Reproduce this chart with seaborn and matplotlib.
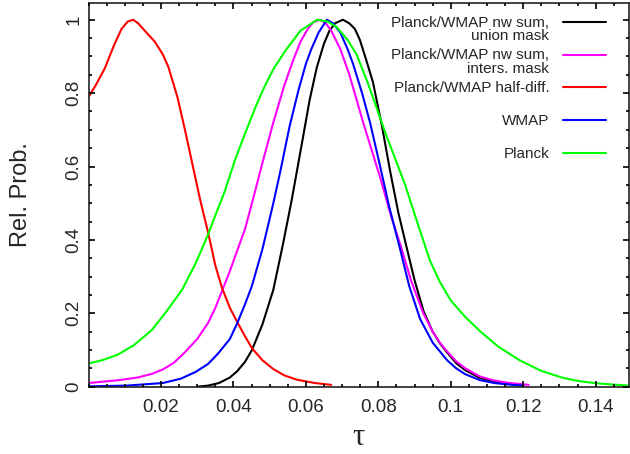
import matplotlib
matplotlib.use("Agg")
import matplotlib.pyplot as plt
from matplotlib.ticker import MultipleLocator
from matplotlib.legend_handler import HandlerLine2D
import numpy as np
import pandas as pd
import seaborn as sns

union_tau = [0.0300, 0.033, 0.036, 0.039, 0.041, 0.0432, 0.0451, 0.048, 0.051, 0.0537, 0.0561, 0.0592,
             0.061, 0.063, 0.065, 0.0665, 0.068, 0.0702, 0.072, 0.0735, 0.0749, 0.0765, 0.0785, 0.081,
             0.0832, 0.0855, 0.0878, 0.090, 0.0925, 0.095, 0.097, 0.099, 0.1015, 0.104, 0.108, 0.112,
             0.117, 0.120]
union_p = [0.000, 0.003, 0.010, 0.025, 0.042, 0.068, 0.10, 0.17, 0.264, 0.39, 0.51, 0.68,
           0.78, 0.87, 0.935, 0.97, 0.99, 1.00, 0.99, 0.975, 0.945, 0.895, 0.83, 0.71,
           0.59, 0.475, 0.38, 0.29, 0.205, 0.15, 0.118, 0.093, 0.064, 0.045, 0.024, 0.014,
           0.007, 0.004]

inters_tau = [0.000, 0.0085, 0.0135, 0.0175, 0.0205, 0.0235, 0.0265, 0.030, 0.033, 0.035, 0.037, 0.039,
              0.041, 0.0432, 0.0459, 0.048, 0.051, 0.054, 0.0565, 0.0585, 0.0605, 0.062, 0.0639, 0.0655,
              0.067, 0.0695, 0.072, 0.0758, 0.0805, 0.0835, 0.0863, 0.089, 0.0924, 0.095, 0.097, 0.099,
              0.1015, 0.104, 0.108, 0.1115, 0.1155, 0.1215]
inters_p = [0.010, 0.018, 0.025, 0.035, 0.047, 0.065, 0.093, 0.13, 0.174, 0.215, 0.265, 0.315,
            0.37, 0.43, 0.53, 0.61, 0.72, 0.82, 0.89, 0.94, 0.975, 0.993, 1.00, 0.99,
            0.97, 0.92, 0.85, 0.72, 0.57, 0.465, 0.38, 0.29, 0.20, 0.15, 0.12, 0.096,
            0.069, 0.05, 0.028, 0.018, 0.011, 0.005]

halfdiff_tau = [0.000, 0.002, 0.0045, 0.007, 0.0091, 0.0108, 0.0123, 0.0137, 0.0155, 0.0183, 0.0205,
                0.022, 0.0245, 0.0266, 0.0288, 0.0308, 0.033, 0.035, 0.0368, 0.039, 0.041, 0.0432,
                0.0451, 0.048, 0.051, 0.054, 0.0575, 0.0625, 0.067]
halfdiff_p = [0.79, 0.822, 0.868, 0.93, 0.975, 0.995, 1.00, 0.99, 0.97, 0.94, 0.905,
              0.872, 0.79, 0.70, 0.60, 0.509, 0.42, 0.33, 0.27, 0.215, 0.177, 0.137,
              0.105, 0.072, 0.048, 0.031, 0.019, 0.010, 0.005]

wmap_tau = [0.000, 0.0105, 0.0205, 0.0255, 0.0295, 0.033, 0.0358, 0.039, 0.0409, 0.0432, 0.0451, 0.048,
            0.051, 0.053, 0.0555, 0.058, 0.060, 0.0615, 0.0635, 0.0658, 0.0675, 0.0695, 0.0715, 0.073,
            0.0755, 0.0777, 0.0805, 0.083, 0.086, 0.0885, 0.0915, 0.095, 0.099, 0.1015, 0.104, 0.108,
            0.112, 0.117, 0.120]
wmap_p = [0.001, 0.003, 0.010, 0.022, 0.040, 0.062, 0.091, 0.13, 0.17, 0.225, 0.275, 0.375,
          0.50, 0.59, 0.71, 0.81, 0.88, 0.92, 0.965, 1.00, 0.99, 0.965, 0.92, 0.88,
          0.80, 0.72, 0.60, 0.49, 0.375, 0.275, 0.185, 0.12, 0.072, 0.05, 0.034, 0.018,
          0.010, 0.005, 0.003]

planck_tau = [0.000, 0.004, 0.008, 0.0125, 0.0175, 0.0215, 0.0258, 0.0295, 0.033, 0.0355, 0.0375, 0.0405,
              0.0432, 0.046, 0.0482, 0.051, 0.0545, 0.0585, 0.0631, 0.066, 0.0685, 0.0715, 0.074, 0.077,
              0.0795, 0.082, 0.0845, 0.0874, 0.091, 0.0942, 0.097, 0.100, 0.104, 0.108, 0.113, 0.119,
              0.125, 0.131, 0.1355, 0.1405, 0.149]
planck_p = [0.063, 0.073, 0.087, 0.113, 0.155, 0.205, 0.264, 0.335, 0.415, 0.48, 0.53, 0.62,
            0.69, 0.76, 0.81, 0.865, 0.918, 0.97, 1.00, 0.995, 0.98, 0.945, 0.905, 0.83,
            0.76, 0.69, 0.625, 0.55, 0.44, 0.345, 0.285, 0.235, 0.19, 0.152, 0.11, 0.072,
            0.043, 0.024, 0.015, 0.009, 0.003]

names = ["Planck/WMAP nw sum,\nunion mask", "Planck/WMAP nw sum,\ninters. mask",
         "Planck/WMAP half-diff.\n ", "WMAP\n ", "Planck\n "]
colors = ["#000000", "#ff00ff", "#ff0000", "#0000ff", "#00ff00"]

series = [(union_tau, union_p), (inters_tau, inters_p), (halfdiff_tau, halfdiff_p),
          (wmap_tau, wmap_p), (planck_tau, planck_p)]
df = pd.concat([pd.DataFrame({"tau": t, "prob": p, "curve": n})
                for n, (t, p) in zip(names, series)], ignore_index=True)

sns.set_style("ticks")
plt.rcParams["font.family"] = ["Liberation Sans", "DejaVu Sans"]
plt.rcParams["axes.axisbelow"] = False

fig = plt.figure(figsize=(6.3, 4.54), dpi=100)
ax = fig.add_axes([88.6 / 630, 1 - 386.7 / 454, (629 - 88.6) / 630, (386.7 - 3.3) / 454])

sns.lineplot(data=df, x="tau", y="prob", hue="curve", hue_order=names,
             palette=dict(zip(names, colors)), estimator=None, sort=False,
             linewidth=1.5, legend=False, ax=ax)

ax.set_xlim(0, 0.1492)
ax.set_ylim(0, 1.0447)
ax.set_xticks([0.02, 0.04, 0.06, 0.08, 0.1, 0.12, 0.14])
ax.set_xticklabels(["0.02", "0.04", "0.06", "0.08", "0.1", "0.12", "0.14"])
ax.set_yticks([0, 0.2, 0.4, 0.6, 0.8, 1.0])
ax.set_yticklabels(["0", "0.2", "0.4", "0.6", "0.8", "1"], rotation=90, va="center")
ax.xaxis.set_minor_locator(MultipleLocator(0.005))
ax.yaxis.set_minor_locator(MultipleLocator(0.05))
# gnuplot-like inward ticks on all four sides
ax.tick_params(which="both", direction="in", top=True, right=True, width=1.2, color="black")
ax.tick_params(which="major", length=4.5)
ax.tick_params(which="minor", length=2.5)
ax.tick_params(axis="both", which="major", labelsize=13.5)
ax.tick_params(axis="x", which="major", pad=9)
ax.tick_params(axis="y", which="major", pad=4.5)
for s in ax.spines.values():
    s.set_color("#222222")
    s.set_linewidth(1.2)

ax.set_ylabel("Rel. Prob.", fontsize=17, labelpad=24)
ax.set_xlabel("τ", fontsize=22, family=["Liberation Serif", "DejaVu Serif"], labelpad=5)


class UpLine(HandlerLine2D):
    """legend line raised to sit beside the first text line"""
    def __init__(self, shift, **kw):
        super().__init__(**kw)
        self.shift = shift

    def create_artists(self, legend, orig_handle, xdescent, ydescent, width, height, fontsize, trans):
        arts = super().create_artists(legend, orig_handle, xdescent, ydescent, width, height, fontsize, trans)
        for a in arts:
            a.set_ydata(np.asarray(a.get_ydata()) + self.shift)
        return arts


lines = ax.get_lines()[:5]
leg = ax.legend(lines, names, loc="upper right", bbox_to_anchor=(0.957, 0.968),
                frameon=False, markerfirst=False, fontsize=11, borderpad=0, borderaxespad=0,
                handlelength=2.8, handletextpad=0.9, labelspacing=0.35,
                handler_map={l: UpLine(5.5) for l in lines})
for t in leg.get_texts():
    t.set_multialignment("right")
    t.set_linespacing(0.95)
for l in leg.get_lines():
    l.set_linewidth(1.5)

fig.savefig("out.png", dpi=100)
